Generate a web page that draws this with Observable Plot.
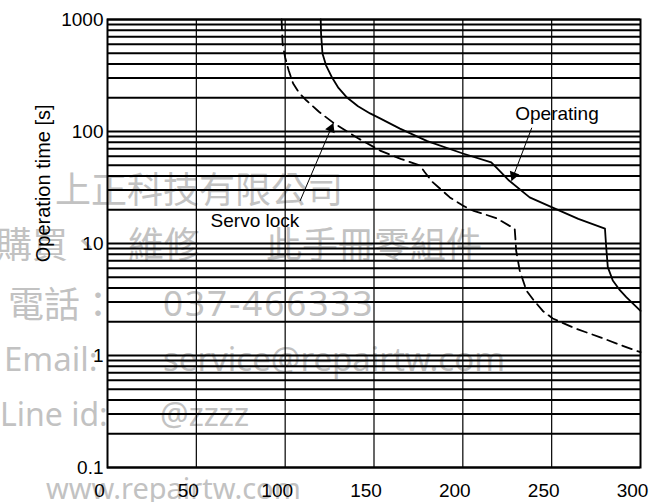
<!DOCTYPE html>
<html><head><meta charset="utf-8">
<script src="https://cdn.jsdelivr.net/npm/d3@7"></script>
<script src="https://cdn.jsdelivr.net/npm/@observablehq/plot@0.6"></script>
<style>
body{margin:0;background:#fff;}
#wrap{position:relative;width:652px;height:502px;overflow:hidden;background:#fff;}
.wm{position:absolute;color:#c2c2c2;white-space:pre;line-height:1;transform:translateY(-50%);font-family:"Noto Sans CJK TC","Noto Sans",sans-serif;}
.lat{font-family:"Noto Sans","Open Sans",sans-serif;}
#chart{position:absolute;left:0;top:0;}
</style></head><body>
<div id="wrap">
  <div class="wm" style="left:55px;top:187px;font-size:36px">上正科技有限公司</div>
  <div class="wm" style="left:-4px;top:242px;font-size:36px">購買、</div>
  <div class="wm" style="left:128px;top:242px;font-size:36px">維修</div>
  <div class="wm" style="left:266px;top:242px;font-size:36px">此手冊零組件</div>
  <div class="wm" style="left:8px;top:302px;font-size:36px">電話：</div>
  <div class="wm lat" style="left:163px;top:302px;font-size:35px;letter-spacing:2px">037-466333</div>
  <div class="wm lat" style="left:4px;top:358px;font-size:33px">Email:</div>
  <div class="wm lat" style="left:163px;top:358px;font-size:33px">service@repairtw.com</div>
  <div class="wm lat" style="left:0px;top:414px;font-size:32px">Line id:</div>
  <div class="wm lat" style="left:160px;top:414px;font-size:32px">@zzzz</div>
  <div class="wm lat" style="left:46px;top:487px;font-size:29px">www.repairtw.com</div>
  <div id="chart"></div>
</div>
<script>
// ---- data ----
const xTicks = [0, 50, 100, 150, 200, 250, 300];
const yTicks = [0.1, 1, 10, 100, 1000];
const yTickLabels = ["0.1", "1", "10", "100", "1000"];

const operatingX = [120, 120.2, 121, 123, 126.4, 130, 134.8, 141, 147.8, 153.4, 164.6, 180, 200, 216, 221, 226, 237.6, 250.6, 265, 280, 280.3, 280.7, 281.6, 284.4, 288, 292, 300];
const operatingY = [1000, 750, 497, 390, 303, 245, 201, 168, 145, 131, 106, 82, 63.6, 52.9, 44, 36.5, 25.8, 20.9, 16.6, 13.6, 11.5, 9.27, 6.15, 4.67, 3.9, 3.32, 2.5];

const servoX = [98, 98.2, 98.6, 100, 102, 104.5, 108, 112, 119, 127, 134, 141, 153.4, 165, 175.8, 178.6, 183, 192.7, 200, 205.7, 219, 229.2, 229.6, 230, 232, 235.8, 240, 245, 250.6, 263, 277, 290, 300];
const servoY = [1000, 800, 600, 458, 350, 268, 220, 189, 150, 120, 102, 87, 67.6, 57, 49.7, 43.3, 35.3, 25.8, 21.8, 19.7, 16.8, 13.5, 11, 8.66, 5.75, 3.8, 3.1, 2.5, 2.14, 1.75, 1.46, 1.22, 1.07];

const labelNames = ["Operating", "Servo lock"];
const labelX = [253, 83];
const labelY = [145, 16];
const arrowFromX = [238.8, 108.4];
const arrowFromY = [108, 24];
const arrowToX = [227.5, 127];
const arrowToY = [36.5, 118];

const axisTitle = "Operation time [s]";

// ---- tables ----
const operating = operatingX.map((x, i) => ({x, y: operatingY[i]}));
const servo = servoX.map((x, i) => ({x, y: servoY[i]}));
const labels = labelNames.map((t, i) => ({t, x: labelX[i], y: labelY[i]}));
const arrows = labelNames.map((t, i) => ({x1: arrowFromX[i], y1: arrowFromY[i], x2: arrowToX[i], y2: arrowToY[i]}));
const yGrid = [];
[0.1, 1, 10, 100].forEach(d => { for (let k = 1; k <= 9; k++) yGrid.push(+(k * d).toPrecision(3)); });
yGrid.push(1000);
const xGrid = xTicks.slice(1, -1);

const font = "'Liberation Sans', Arial, sans-serif";

const chart = Plot.plot({
  width: 652,
  height: 502,
  marginLeft: 107,
  marginRight: 12,
  marginTop: 19,
  marginBottom: 35,
  style: {background: "transparent", fontFamily: font, fontSize: "19px", color: "black", overflow: "visible"},
  x: {domain: [0, 300], ticks: xTicks, tickSize: 0, tickPadding: 16, label: null},
  y: {type: "log", domain: [0.1, 1000], ticks: yTicks, tickFormat: d => yTickLabels[yTicks.indexOf(d)] ?? "", tickSize: 0, tickPadding: 4, label: null},
  marks: [
    Plot.ruleY(yGrid, {stroke: "black", strokeWidth: 2}),
    Plot.ruleX(xGrid, {stroke: "black", strokeWidth: 1.2}),
    Plot.frame({stroke: "black", strokeWidth: 2}),
    Plot.axisX({ticks: xTicks, tickSize: 0, tickPadding: 16, dx: -8, label: null}),
    Plot.line(operating, {x: "x", y: "y", stroke: "black", strokeWidth: 1.8}),
    Plot.line(servo, {x: "x", y: "y", stroke: "black", strokeWidth: 1.8, strokeDasharray: "10,6"}),
    Plot.link(arrows, {x1: "x1", y1: "y1", x2: "x2", y2: "y2", stroke: "black", strokeWidth: 1}),
    Plot.dot(arrows.slice(0, 1), {x: "x2", y: "y2", symbol: "triangle", r: 3.8, fill: "black", stroke: "none", rotate: 200.7, dx: 1.9, dy: -5.1}),
    Plot.dot(arrows.slice(1, 2), {x: "x2", y: "y2", symbol: "triangle", r: 3.8, fill: "black", stroke: "none", rotate: 23.2, dx: -2.1, dy: 5.0}),
    Plot.text(labels, {x: "x", y: "y", text: "t", fontSize: 19, fill: "black"}),
    Plot.text([axisTitle], {frameAnchor: "left", y: [6.8], text: d => d, rotate: -90, dx: -64, fontSize: 20, fill: "black"})
  ]
});
document.getElementById("chart").appendChild(chart);
</script>
</body></html>
